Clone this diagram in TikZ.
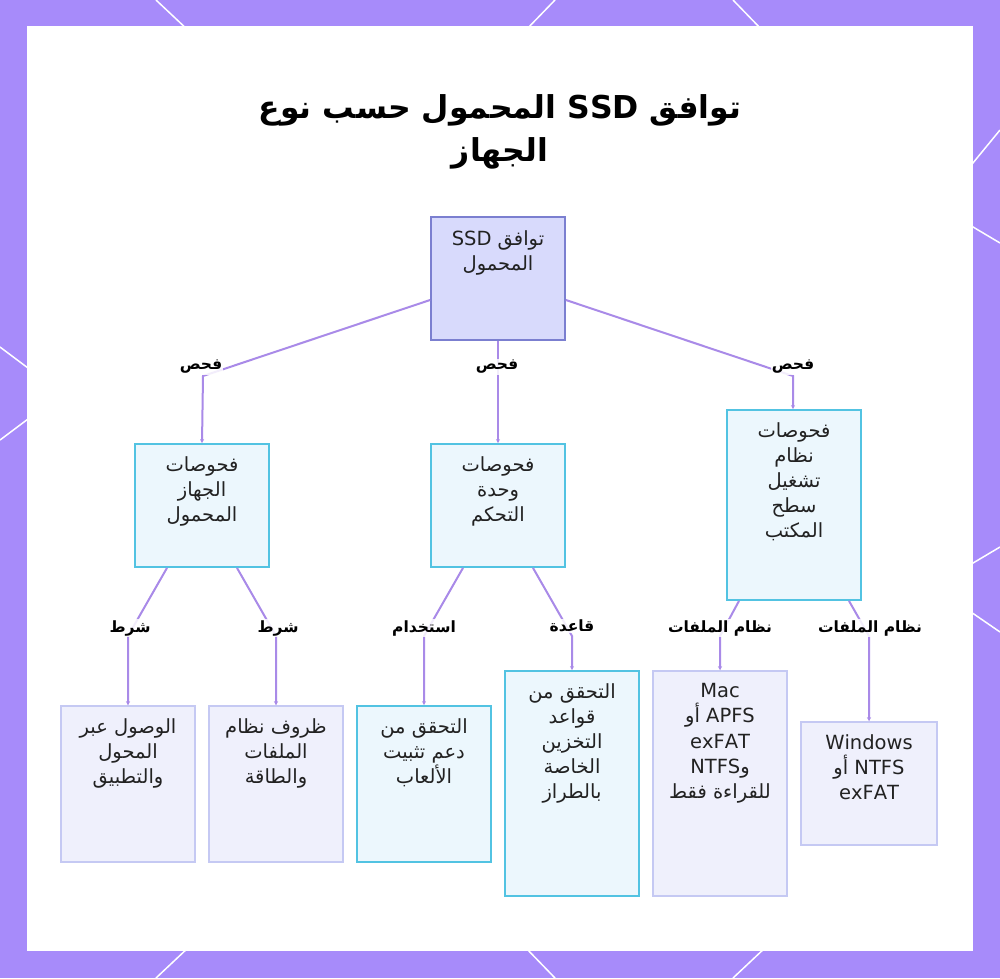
\documentclass[tikz,border=0pt]{standalone}
\usepackage{fontspec}
\usetikzlibrary{positioning,arrows.meta}
\TeXXeTstate=1
\newfontfamily\arabicfont[Script=Arabic]{DejaVu Sans}
\newcommand\rl[1]{\beginR #1\endR}

\definecolor{framecol}{HTML}{A78BFA}
\definecolor{rootfill}{HTML}{D8DAFC}
\definecolor{rootdraw}{HTML}{7B7FD0}
\definecolor{cyanfill}{HTML}{ECF7FD}
\definecolor{cyandraw}{HTML}{52C3E2}
\definecolor{lavfill}{HTML}{EFF0FC}
\definecolor{lavdraw}{HTML}{C5C9F3}
\definecolor{linkcol}{HTML}{A98AE8}
\definecolor{textcol}{HTML}{222222}

\tikzset{
  rootbox/.style={draw=rootdraw, fill=rootfill, line width=1.8pt,
    minimum width=134pt, minimum height=123pt, inner sep=0pt},
  checkbox/.style={draw=cyandraw, fill=cyanfill, line width=1.8pt,
    minimum width=134pt, inner sep=0pt},
  leafbox/.style={draw=lavdraw, fill=lavfill, line width=1.5pt,
    minimum width=134pt, inner sep=0pt},
  boxtext/.style={font=\fontsize{19.5}{25.2}\selectfont\arabicfont, align=center,
    text=textcol, inner sep=0pt},
  linklabel/.style={font=\fontsize{15.5}{18}\selectfont\arabicfont\bfseries,
    text=black, fill=white, fill opacity=0.85, text opacity=1, inner sep=1pt},
  link/.style={draw=linkcol, line width=2pt, -{Stealth[length=4pt,width=4pt]}},
  frameline/.style={draw=white, line width=1.5pt},
}

\begin{document}
\begin{tikzpicture}[x=1pt,y=-1pt]
\useasboundingbox (0,0) rectangle (1000,978);

% frame
\fill[framecol] (0,0) rectangle (1000,978);
\draw[frameline] (156,0) -- (190,32);
\draw[frameline] (555,0) -- (524,32);
\draw[frameline] (733,0) -- (764,32);
\draw[frameline] (1000,130) -- (968,169);
\draw[frameline] (968,224) -- (1000,243);
\draw[frameline] (968,566) -- (1000,547);
\draw[frameline] (968,610) -- (1000,632);
\draw[frameline] (0,347) -- (32,371);
\draw[frameline] (32,416) -- (0,440);
\draw[frameline] (190,946) -- (156,978);
\draw[frameline] (524,946) -- (555,978);
\draw[frameline] (767,946) -- (733,978);
\fill[white] (27,26) rectangle (973,951);

% title
\node[font=\fontsize{31.5}{43}\selectfont\arabicfont\bfseries, align=center, text=black]
  (title) at (500,132) {\rl{توافق SSD المحمول حسب نوع}\\ \rl{الجهاز}};

% boxes
\node[rootbox] (root) at (498,278.5) {};
\node[boxtext, below=14pt of root.north] {\rl{توافق SSD}\\ \rl{المحمول}};

\node[checkbox, minimum height=123pt] (portable) at (202,505.5) {};
\node[boxtext, below=13pt of portable.north] {\rl{فحوصات}\\ \rl{الجهاز}\\ \rl{المحمول}};
\node[checkbox, minimum height=123pt] (console) at (498,505.5) {};
\node[boxtext, below=13pt of console.north] {\rl{فحوصات}\\ \rl{وحدة}\\ \rl{التحكم}};
\node[checkbox, minimum height=190pt] (desktop) at (794,505) {};
\node[boxtext, below=13pt of desktop.north] {\rl{فحوصات}\\ \rl{نظام}\\ \rl{تشغيل}\\ \rl{سطح}\\ \rl{المكتب}};

\node[leafbox, minimum height=156pt] (adapter) at (128,784) {};
\node[boxtext, below=13pt of adapter.north] {\rl{الوصول عبر}\\ \rl{المحول}\\ \rl{والتطبيق}};
\node[leafbox, minimum height=156pt] (fspower) at (276,784) {};
\node[boxtext, below=13pt of fspower.north] {\rl{ظروف نظام}\\ \rl{الملفات}\\ \rl{والطاقة}};
\node[checkbox, minimum height=156pt] (gameinst) at (424,784) {};
\node[boxtext, below=13pt of gameinst.north] {\rl{التحقق من}\\ \rl{دعم تثبيت}\\ \rl{الألعاب}};
\node[checkbox, minimum height=225pt] (storerules) at (572,783.5) {};
\node[boxtext, below=13pt of storerules.north] {\rl{التحقق من}\\ \rl{قواعد}\\ \rl{التخزين}\\ \rl{الخاصة}\\ \rl{بالطراز}};
\node[leafbox, minimum height=225pt] (macfs) at (720,783.5) {};
\node[boxtext, below=13pt of macfs.north] {\rl{Mac}\\ \rl{APFS أو}\\ \rl{exFAT}\\ \rl{و\kern0pt NTFS}\\ \rl{للقراءة فقط}};
\node[leafbox, minimum width=136pt, minimum height=123pt] (winfs) at (869,783.5) {};
\node[boxtext, below=13pt of winfs.north] {\rl{Windows}\\ \rl{NTFS أو}\\ \rl{exFAT}};

% links
\draw[link] ([yshift=-21.5pt]root.west) -- (203,376) -- (portable.north);
\draw[link] (root.south) -- (console.north);
\draw[link] ([yshift=-21.5pt]root.east) -- (793,376) -- (desktop.north -| 793,0);
\node[linklabel] at (201,367) {\rl{فحص}};
\node[linklabel] at (497,367) {\rl{فحص}};
\node[linklabel] at (793,367) {\rl{فحص}};

\draw[link] ([xshift=-35pt]portable.south) -- (128,636) -- (adapter.north);
\draw[link] ([xshift=35pt]portable.south) -- (276,636) -- (fspower.north);
\draw[link] ([xshift=-35pt]console.south) -- (424,636) -- (gameinst.north);
\draw[link] ([xshift=35pt]console.south) -- (572,636) -- (storerules.north);
\draw[link] ([xshift=-55pt]desktop.south) -- (720,636) -- (macfs.north);
\draw[link] ([xshift=55pt]desktop.south) -- (869,636) -- (winfs.north);
\node[linklabel] at (130,628) {\rl{شرط}};
\node[linklabel] at (278,628) {\rl{شرط}};
\node[linklabel] at (424,628) {\rl{استخدام}};
\node[linklabel] at (572,626) {\rl{قاعدة}};
\node[linklabel] at (720,628) {\rl{نظام الملفات}};
\node[linklabel] at (870,628) {\rl{نظام الملفات}};
\end{tikzpicture}
\end{document}
